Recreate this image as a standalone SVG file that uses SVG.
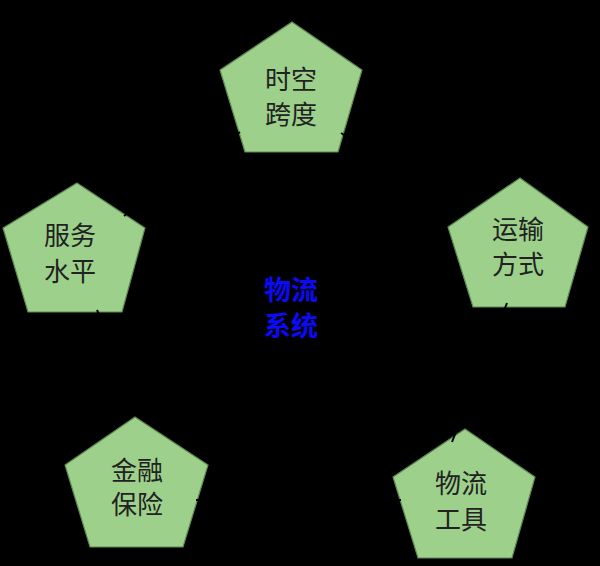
<svg xmlns="http://www.w3.org/2000/svg" width="600" height="566" viewBox="0 0 600 566">
<style>
.pent{fill:#9dd18b;stroke:#5f8a50;stroke-width:1.2}
.lbl{font-family:"Noto Sans CJK SC","Noto Sans CJK JP",sans-serif;font-size:26px;fill:#222;text-anchor:middle;dominant-baseline:central}
.ctr{font-family:"Noto Sans CJK SC","Noto Sans CJK JP",sans-serif;font-size:27px;font-weight:bold;fill:#0b0bf5;text-anchor:middle;dominant-baseline:central}
.con{stroke:#000;stroke-width:2;fill:none}
</style>
<rect width="600" height="566" fill="#000"/>
<g id="node-top">
<polygon class="pent" points="292,22 362,70 338,152 245,152 220,70"/>
<text class="lbl" x="291" y="77">时空</text>
<text class="lbl" x="291" y="112">跨度</text>
</g>
<g id="node-left">
<polygon class="pent" points="77,183 145,228 122,312 28,312 3,228"/>
<text class="lbl" x="70" y="233">服务</text>
<text class="lbl" x="70" y="269">水平</text>
</g>
<g id="node-right">
<polygon class="pent" points="520,178 588,227 565,307 473,307 448,227"/>
<text class="lbl" x="518" y="227">运输</text>
<text class="lbl" x="518" y="262">方式</text>
</g>
<g id="node-bottom-right">
<polygon class="pent" points="465,429 535,477 512,558 418,558 393,477"/>
<text class="lbl" x="461" y="481">物流</text>
<text class="lbl" x="461" y="517">工具</text>
</g>
<g id="node-bottom-left">
<polygon class="pent" points="135,417 208,465 183,547 90,547 65,465"/>
<text class="lbl" x="137" y="468">金融</text>
<text class="lbl" x="137" y="502">保险</text>
</g>
<g id="node-center">
<text class="ctr" x="291" y="288">物流</text>
<text class="ctr" x="291" y="324">系统</text>
</g>
<g id="connectors">
<line class="con" x1="240" y1="132" x2="124" y2="216"/>
<line class="con" x1="97" y1="310" x2="146" y2="422"/>
<line class="con" x1="196" y1="500" x2="401" y2="500"/>
<line class="con" x1="452" y1="442" x2="507" y2="303"/>
<line class="con" x1="455" y1="205" x2="341" y2="133"/>
</g>
</svg>
